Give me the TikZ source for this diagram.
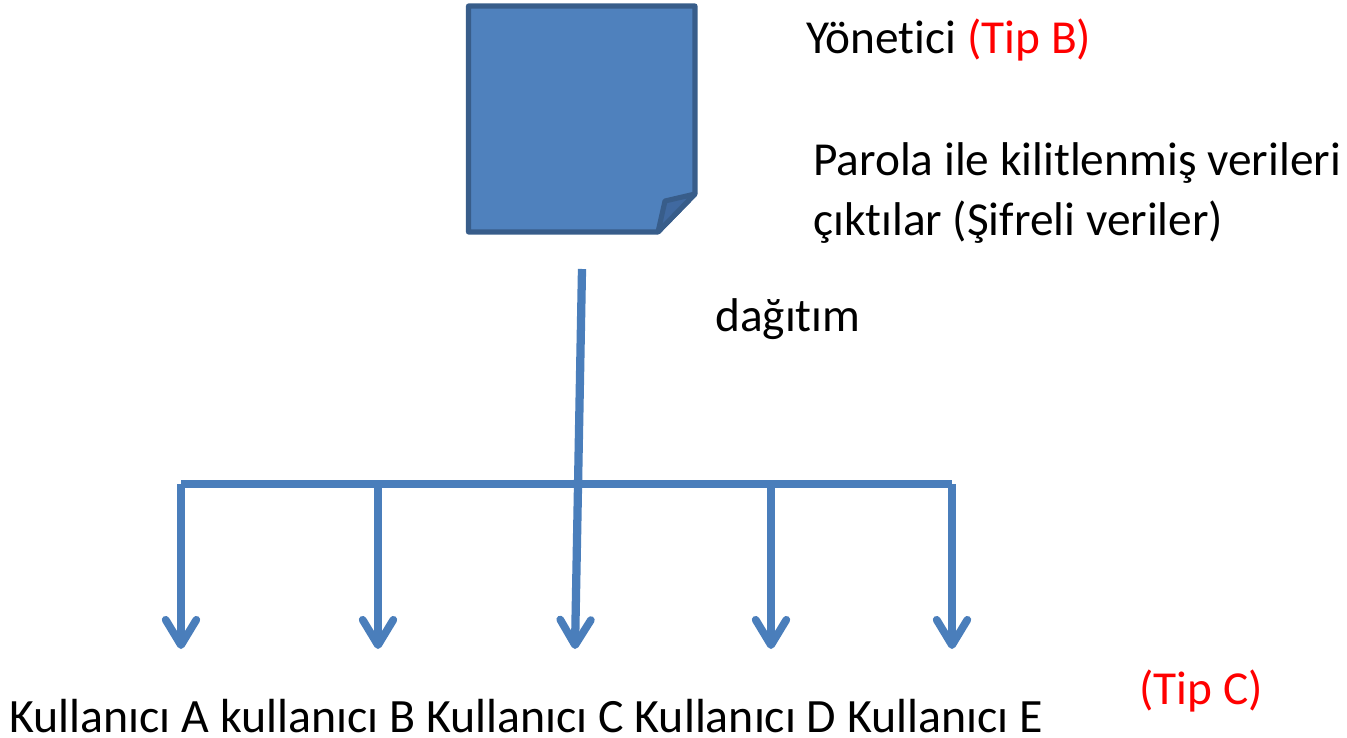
\documentclass[tikz,border=0pt]{standalone}
\usepackage{fontspec}
\setmainfont[RawFeature=-liga]{Carlito}
\usetikzlibrary{arrows.meta}
\definecolor{notefill}{HTML}{4F81BD}
\definecolor{noteline}{HTML}{385D8A}
\definecolor{foldfill}{HTML}{4069A0}
\definecolor{busline}{HTML}{4A7EBB}
\definecolor{tipred}{HTML}{FF0000}
\tikzset{
  label/.style={anchor=base west, inner sep=0pt, font=\fontsize{35.5}{42}\selectfont},
  bus/.style={draw=busline, line width=6.2pt},
  drop/.style={bus, -{Straight Barb[length=19pt, width=23pt, line width=5.8pt, round]}},
}
\begin{document}
\begin{tikzpicture}[x=0.75pt, y=-0.75pt]
\useasboundingbox (0,0) rectangle (1347,738);

\coordinate (n1) at (468.5,6);
\coordinate (n2) at (695,6);
\coordinate (n3) at (695,194);
\coordinate (n4) at (658,232);
\coordinate (n5) at (468.5,232);
\coordinate (nf) at (665,201);

\draw[fill=notefill, draw=noteline, line width=3.8pt, line join=round] (n1) -- (n2) -- (n3) -- (n4) -- (n5) -- cycle;
\draw[fill=foldfill, draw=noteline, line width=3.8pt, line join=round] (n4) -- (nf) -- (n3) -- cycle;

\node[name=admin, label] at (806,54) {Yönetici \textcolor{tipred}{(Tip B)}};
\node[name=out1, label] at (813,176) {Parola ile kilitlenmiş verileri};
\node[name=out2, label] at (813,236) {çıktılar (Şifreli veriler)};
\node[name=dist, label] at (715,331) {dağıtım};
\node[name=tipc, label, text=tipred] at (1139,704) {(Tip C)};
\node[name=users, label, font=\fontsize{35.9}{42}\selectfont, text depth=0pt] at (9,732) {Kullanıcı A kullanıcı B Kullanıcı C Kullanıcı D Kullanıcı E};

\coordinate (top) at (582,269);
\coordinate (b1) at (181,484);
\coordinate (b2) at (378,484);
\coordinate (b4) at (771,484);
\coordinate (b5) at (952,484);
\coordinate (a1) at (181,649);
\coordinate (a2) at (378,649);
\coordinate (a3) at (575,649);
\coordinate (a4) at (771,649);
\coordinate (a5) at (952,649);

\draw[bus] (b1) -- (b5);
\draw[drop] (b1) -- (a1);
\draw[drop] (b2) -- (a2);
\draw[drop] (top) -- (a3);
\draw[drop] (b4) -- (a4);
\draw[drop] (b5) -- (a5);
\end{tikzpicture}
\end{document}
